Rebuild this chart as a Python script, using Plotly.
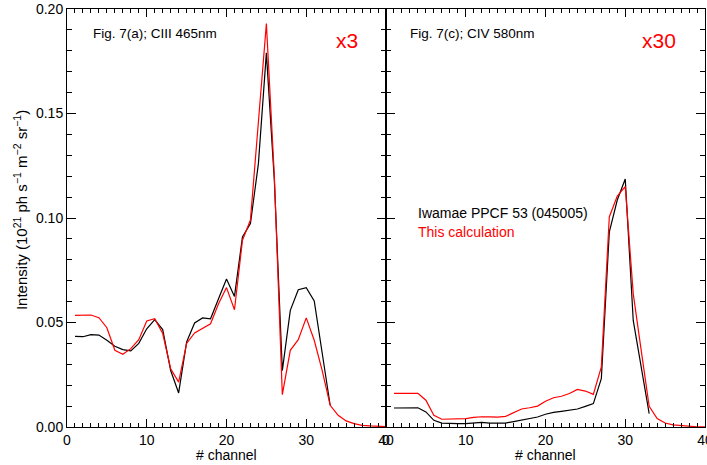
import plotly.graph_objects as go
from plotly.subplots import make_subplots

channels_a = list(range(1, 41))
iwamae_a = [0.0434, 0.0432, 0.0442, 0.0440, 0.0415, 0.0386, 0.0370, 0.0364, 0.0400, 0.0470,
            0.0514, 0.0466, 0.0270, 0.0163, 0.0407, 0.0498, 0.0522, 0.0518, 0.0614, 0.0708,
            0.0625, 0.0909, 0.0973, 0.1260, 0.1790, 0.1180, 0.0270, 0.0558, 0.0657, 0.0667,
            0.0603, 0.0360, 0.0104]
calc_a = [0.0534, 0.0534, 0.0536, 0.0523, 0.0475, 0.0367, 0.0348, 0.0375, 0.0418, 0.0507,
          0.0518, 0.0447, 0.0279, 0.0215, 0.0400, 0.0450, 0.0474, 0.0494, 0.0590, 0.0667,
          0.0561, 0.0893, 0.0990, 0.1450, 0.1930, 0.1200, 0.0155, 0.0367, 0.0418, 0.0522,
          0.0415, 0.0270, 0.0104, 0.0056, 0.0029, 0.0016, 0.0008, 0.0005, 0.0003, 0.0002]

iwamae_c = [0.0091, 0.0091, 0.0091, 0.0092, 0.0072, 0.0032, 0.0019, 0.0016, 0.0016, 0.0016,
            0.0018, 0.0022, 0.0019, 0.0018, 0.0019, 0.0026, 0.0033, 0.0038, 0.0048, 0.0061,
            0.0070, 0.0075, 0.0080, 0.0086, 0.0099, 0.0112, 0.0231, 0.0933, 0.1086, 0.1187,
            0.0510, 0.0287, 0.0064]
calc_c = [0.0161, 0.0161, 0.0161, 0.0161, 0.0128, 0.0056, 0.0037, 0.0037, 0.0037, 0.0040,
          0.0046, 0.0049, 0.0048, 0.0047, 0.0051, 0.0069, 0.0086, 0.0092, 0.0100, 0.0123,
          0.0140, 0.0147, 0.0160, 0.0180, 0.0172, 0.0156, 0.0287, 0.1005, 0.1105, 0.1150,
          0.0638, 0.0367, 0.0099, 0.0040, 0.0019, 0.0010, 0.0006, 0.0003, 0.0001, 0.0001]

x_ticks = [0, 10, 20, 30, 40]
y_ticks = [0.00, 0.05, 0.10, 0.15, 0.20]
y_ticklabels = ["0.00", "0.05", "0.10", "0.15", "0.20"]

FONT = "Liberation Sans, Arial, sans-serif"

fig = make_subplots(rows=1, cols=2, shared_yaxes=True, horizontal_spacing=0)

fig.add_trace(go.Scatter(x=channels_a[:len(iwamae_a)], y=iwamae_a, mode="lines",
                         line=dict(color="black", width=1.2), showlegend=False), 1, 1)
fig.add_trace(go.Scatter(x=channels_a[:len(calc_a)], y=calc_a, mode="lines",
                         line=dict(color="#ff0000", width=1.2), showlegend=False), 1, 1)
fig.add_trace(go.Scatter(x=channels_a[:len(iwamae_c)], y=iwamae_c, mode="lines",
                         line=dict(color="black", width=1.2), showlegend=False), 1, 2)
fig.add_trace(go.Scatter(x=channels_a[:len(calc_c)], y=calc_c, mode="lines",
                         line=dict(color="#ff0000", width=1.2), showlegend=False), 1, 2)

xcommon = dict(range=[0, 40], tickvals=x_ticks, ticks="inside", ticklen=8, tickcolor="black",
               showline=True, linecolor="black", linewidth=1, mirror="allticks",
               showgrid=False, zeroline=False, automargin=False, ticklabeloverflow="allow",
               minor=dict(dtick=1, tick0=0, ticks="inside", ticklen=4, tickcolor="black", showgrid=False),
               tickfont=dict(family=FONT, size=14, color="black"))
fig.update_xaxes(**xcommon)

ycommon = dict(range=[0, 0.2], tickvals=y_ticks, ticktext=y_ticklabels, ticks="inside", ticklen=9,
               tickcolor="black", showline=True, linecolor="black", linewidth=1, mirror="allticks",
               showgrid=False, zeroline=False, automargin=False, ticklabeloverflow="allow",
               minor=dict(dtick=0.01, tick0=0, ticks="inside", ticklen=5, tickcolor="black", showgrid=False),
               tickfont=dict(family=FONT, size=14, color="black"))
fig.update_yaxes(**ycommon)
fig.update_yaxes(showticklabels=False, row=1, col=2)

fig.add_annotation(x=3.0, y=0.1885, xref="x", yref="y", text="Fig. 7(a); CIII 465nm", showarrow=False,
                   xanchor="left", font=dict(family=FONT, size=13.5, color="black"))
fig.add_annotation(x=35.1, y=0.185, xref="x", yref="y", text="x3", showarrow=False,
                   font=dict(family=FONT, size=21, color="#ff0000"))
fig.add_annotation(x=2.8, y=0.1885, xref="x2", yref="y2", text="Fig. 7(c); CIV 580nm", showarrow=False,
                   xanchor="left", font=dict(family=FONT, size=13.5, color="black"))
fig.add_annotation(x=34.2, y=0.185, xref="x2", yref="y2", text="x30", showarrow=False,
                   font=dict(family=FONT, size=21, color="#ff0000"))
fig.add_annotation(x=3.7, y=0.1025, xref="x2", yref="y2", text="Iwamae PPCF 53 (045005)", showarrow=False,
                   xanchor="left", font=dict(family=FONT, size=14, color="black"))
fig.add_annotation(x=3.7, y=0.0935, xref="x2", yref="y2", text="This calculation", showarrow=False,
                   xanchor="left", font=dict(family=FONT, size=14, color="#ff0000"))
fig.add_annotation(x=-47/638, y=0.519, xref="paper", yref="paper",
                   text="Intensity (10<sup>21</sup> ph s<sup>−1</sup> m<sup>−2</sup> sr<sup>−1</sup>)",
                   showarrow=False, textangle=-90, xanchor="center", yanchor="middle",
                   font=dict(family=FONT, size=15, color="black"))
for xr in ["x domain", "x2 domain"]:
    fig.add_annotation(x=0.5, y=-28/418, xref=xr, yref="paper", text="# channel", showarrow=False,
                       xanchor="center", yanchor="middle",
                       font=dict(family=FONT, size=14, color="black"))

fig.update_layout(width=707, height=465, margin=dict(l=67, r=2, t=9, b=38),
                  plot_bgcolor="white", paper_bgcolor="white", showlegend=False)

fig.write_html("out.html", config={"displayModeBar": False},
               post_script="document.body.style.margin='0';")
